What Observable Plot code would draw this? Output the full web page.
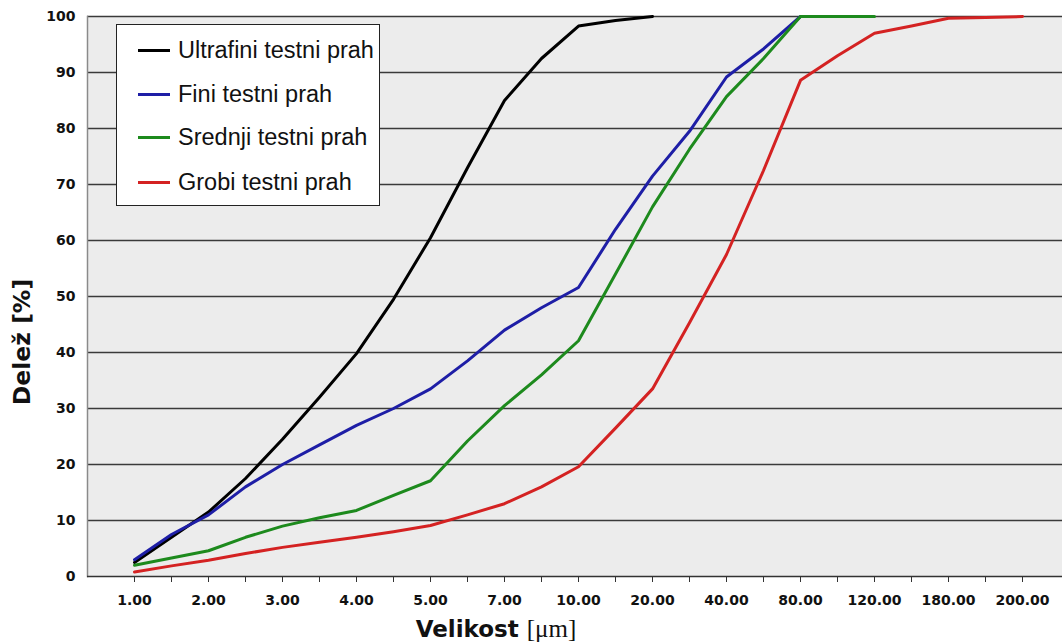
<!DOCTYPE html>
<html>
<head>
<meta charset="utf-8">
<script src="https://cdn.jsdelivr.net/npm/d3@7"></script>
<script src="https://cdn.jsdelivr.net/npm/@observablehq/plot@0.6"></script>
<style>
  html, body { margin: 0; padding: 0; background: #fff; }
  #wrap { position: relative; width: 1062px; height: 644px; overflow: hidden; }
  #legend { position: absolute; left: 116px; top: 24px; width: 262px; height: 180px;
            background: #fff; border: 1.5px solid #222; }
  .row { position: absolute; left: 0; height: 0; }
  .swatch { position: absolute; left: 21px; width: 32px; height: 3px; top: -1.5px; }
  .lab { position: absolute; left: 61px; top: -15px; white-space: nowrap;
         font-family: "Liberation Sans", Arial, sans-serif; font-size: 23.5px; color: #111; line-height: 30px; }
  #ytitle { position: absolute; left: 22px; top: 342px; transform: translate(-50%, -50%) rotate(-90deg);
            font-family: "DejaVu Sans", sans-serif; font-weight: bold; font-size: 23.5px; color: #111; white-space: nowrap; }
  #xtitle { position: absolute; left: 496px; top: 629px; transform: translate(-50%, -50%);
            font-family: "DejaVu Sans", sans-serif; font-weight: bold; font-size: 23px; color: #111; white-space: nowrap; }
  #xtitle .unit { font-family: "Liberation Serif", "DejaVu Serif", serif; font-weight: normal; font-size: 25px; }
</style>
</head>
<body>
<div id="wrap"></div>
<script>
// All x-axis categories (measurement points); only every other one is labelled
const sizes = ["1.00","1.50","2.00","2.50","3.00","3.50","4.00","4.50","5.00","6.00","7.00","8.50",
               "10.00","15.00","20.00","30.00","40.00","60.00","80.00","100.00","120.00","150.00",
               "180.00","190.00","200.00"];
const tickLabels = ["1.00","2.00","3.00","4.00","5.00","7.00","10.00","20.00","40.00","80.00","120.00","180.00","200.00"];
const yTicks = [0,10,20,30,40,50,60,70,80,90,100];

const seriesNames = ["Ultrafini testni prah","Fini testni prah","Srednji testni prah","Grobi testni prah"];
const seriesColors = ["#000000","#1e1ea6","#1d8a1d","#d42222"];

const ultrafini = [2.5, 7, 11.5, 17.5, 24.5, 32, 39.8, 49.5, 60.5, 73, 85, 92.5, 98.3, 99.3, 100];
const fini      = [3, 7.5, 11, 16, 20, 23.5, 27, 30, 33.5, 38.5, 44, 48, 51.6, 62, 71.5, 79.5, 89.2, 94.2, 100];
const srednji   = [2, 3.3, 4.6, 7, 9, 10.5, 11.8, 14.5, 17.1, 24.2, 30.5, 36, 42.1, 54, 66, 76.3, 85.7, 92.5, 100, 100, 100];
const grobi     = [0.8, 1.9, 2.9, 4.1, 5.2, 6.1, 7, 8, 9.1, 11, 13, 16, 19.6, 26.5, 33.5, 45.3, 57.5, 72.5, 88.6, 93, 97, 98.3, 99.7, 99.8, 100];

const allSeries = [ultrafini, fini, srednji, grobi];
const rows = [];
allSeries.forEach((vals, s) => vals.forEach((v, i) => rows.push({series: seriesNames[s], size: sizes[i], value: v})));

const labelled = new Set(tickLabels);

const chart = Plot.plot({
  width: 1062,
  height: 644,
  marginLeft: 87,
  marginRight: 0,
  marginTop: 16,
  marginBottom: 68,
  style: {fontFamily: "DejaVu Sans, sans-serif", fontSize: "14px", fontWeight: "bold", color: "#111", background: "transparent"},
  x: {type: "point", domain: sizes, range: [126, 1029], padding: 0},
  y: {domain: [0, 100]},
  color: {domain: seriesNames, range: seriesColors},
  marks: [
    Plot.frame({fill: "#ececec", stroke: null}),
    Plot.ruleY(yTicks.filter(d => d > 0), {stroke: "#3a3a3a", strokeWidth: 1.6}),
    Plot.frame({anchor: "left", stroke: "#8a8a8a", strokeWidth: 1.5}),
    Plot.ruleY([0], {stroke: "#333", strokeWidth: 1.6}),
    Plot.axisX({ticks: sizes, tickSize: 6, tickPadding: 13, stroke: "#333",
                tickFormat: d => labelled.has(d) ? d : "", label: null}),
    Plot.axisY({ticks: yTicks, tickSize: 0, tickPadding: 12, label: null}),
    Plot.lineY(rows, {x: "size", y: "value", z: "series", stroke: "series", strokeWidth: 3})
  ]
});

const wrap = document.getElementById("wrap");
wrap.appendChild(chart);

// legend
const legend = document.createElement("div");
legend.id = "legend";
const rowTops = [25, 69, 112, 157];
seriesNames.forEach((name, i) => {
  const r = document.createElement("div");
  r.className = "row";
  r.style.top = rowTops[i] + "px";
  const sw = document.createElement("div");
  sw.className = "swatch";
  sw.style.background = seriesColors[i];
  const lb = document.createElement("div");
  lb.className = "lab";
  lb.textContent = name;
  r.appendChild(sw); r.appendChild(lb);
  legend.appendChild(r);
});
wrap.appendChild(legend);

const yt = document.createElement("div");
yt.id = "ytitle";
yt.textContent = "Delež [%]";
wrap.appendChild(yt);

const xt = document.createElement("div");
xt.id = "xtitle";
xt.innerHTML = 'Velikost <span class="unit">[μm]</span>';
wrap.appendChild(xt);
</script>
</body>
</html>
